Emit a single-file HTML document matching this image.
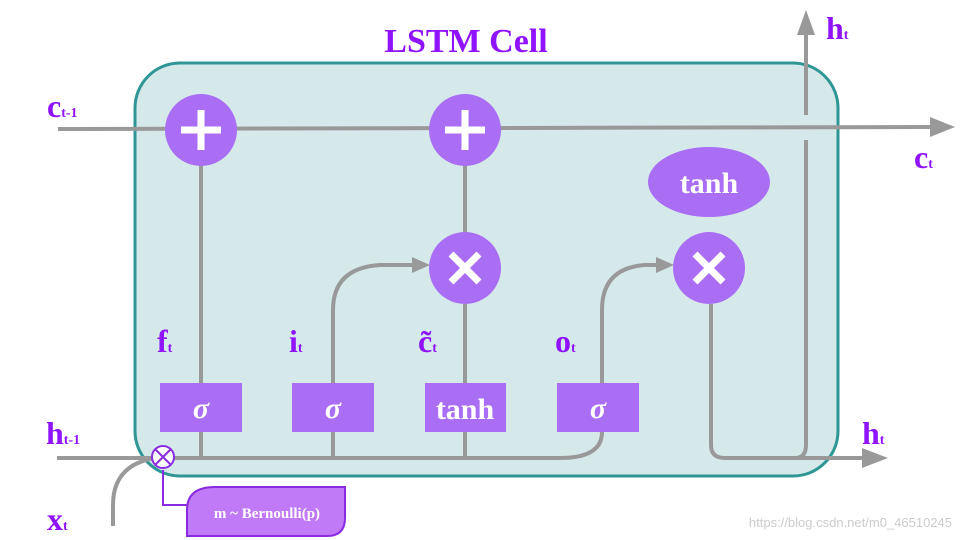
<!DOCTYPE html>
<html><head><meta charset="utf-8"><style>
html,body{margin:0;padding:0;background:#fff;width:960px;height:540px;overflow:hidden}
svg text{font-family:"Liberation Serif",serif;font-weight:bold}
</style></head><body>
<svg width="960" height="540" viewBox="0 0 960 540" xmlns="http://www.w3.org/2000/svg">
<defs>
<marker id="ah" markerWidth="10" markerHeight="10" refX="2" refY="5" orient="auto" markerUnits="userSpaceOnUse" viewBox="0 0 10 10"><path d="M0,0 L10,5 L0,10 z" fill="#999"/></marker>
</defs>
<rect x="135" y="63" width="703" height="413" rx="45" fill="#d5e9ea" stroke="#2f9696" stroke-width="3"/>
<text x="466" y="52" font-size="34" fill="#9013fe" text-anchor="middle">LSTM Cell</text>
<g stroke="#999" stroke-width="4" fill="none">
<line x1="58" y1="129" x2="930" y2="127"/>
<path d="M930,117 L955,127 L930,137 z" fill="#999" stroke="none"/>
<line x1="201" y1="166" x2="201" y2="458"/>
<line x1="465" y1="166" x2="465" y2="232"/>
<line x1="465" y1="304" x2="465" y2="458"/>
<line x1="333" y1="383" x2="333" y2="458"/>
<path d="M333,383 L333,310 Q333,268 380,265 L412,265"/>
<path d="M412,257 L430,265 L412,273 z" fill="#999" stroke="none"/>
<path d="M602,383 L602,310 Q602,268 645,265 L656,265"/>
<path d="M656,257 L674,265 L656,273 z" fill="#999" stroke="none"/>
<path d="M57,458 L560,458 Q602,458 602,432"/>
<path d="M113,526 L113,505 Q113,465 155,458"/>
<path d="M711,304 L711,445 Q711,458 725,458 L865,458"/>
<path d="M862,448 L888,458 L862,468 z" fill="#999" stroke="none"/>
<path d="M795,458 Q806,458 806,445 L806,140"/>
<line x1="806" y1="115" x2="806" y2="35"/>
<path d="M797,35 L806,10 L815,35 z" fill="#999" stroke="none"/>
</g>
<g fill="#aa6ef5">
<circle cx="201" cy="130" r="36"/><circle cx="465" cy="130" r="36"/>
<circle cx="465" cy="268" r="36"/><circle cx="709" cy="268" r="36"/>
<ellipse cx="709" cy="182" rx="61" ry="35"/>
<rect x="160" y="383" width="82" height="49"/><rect x="292" y="383" width="82" height="49"/>
<rect x="425" y="383" width="81" height="49"/><rect x="557" y="383" width="82" height="49"/>
</g>
<g stroke="#fff" stroke-width="7">
<line x1="201" y1="110" x2="201" y2="150"/><line x1="181" y1="130" x2="221" y2="130"/>
<line x1="465" y1="110" x2="465" y2="150"/><line x1="445" y1="130" x2="485" y2="130"/>
<line x1="451" y1="254" x2="479" y2="282"/><line x1="479" y1="254" x2="451" y2="282"/>
<line x1="695" y1="254" x2="723" y2="282"/><line x1="723" y1="254" x2="695" y2="282"/>
</g>
<g fill="#fff" text-anchor="middle">
<text x="709" y="193" font-size="30">tanh</text>
<text x="201" y="418" font-size="30" font-style="italic">σ</text>
<text x="333" y="418" font-size="30" font-style="italic">σ</text>
<text x="465" y="419" font-size="30">tanh</text>
<text x="598" y="418" font-size="30" font-style="italic">σ</text>
</g>
<path d="M163,470 L163,505 L190,505" stroke="#8a2be2" stroke-width="2" fill="none"/>
<path d="M187,536 L187,510 Q187,487 215,487 L345,487 L345,518 Q345,536 327,536 z" fill="#c07af8" stroke="#8a2be2" stroke-width="2"/>
<text x="267" y="518" font-size="15" fill="#fff" text-anchor="middle">m ~ Bernoulli(p)</text>
<circle cx="163" cy="457" r="11" fill="#fff" stroke="#8a2be2" stroke-width="2"/>
<g stroke="#8a2be2" stroke-width="2"><line x1="155" y1="449" x2="171" y2="465"/><line x1="171" y1="449" x2="155" y2="465"/></g>
<g fill="#9013fe">
<text x="47" y="117" font-size="32">c<tspan font-size="14">t-1</tspan></text>
<text x="914" y="168" font-size="32">c<tspan font-size="14">t</tspan></text>
<text x="826" y="39" font-size="32">h<tspan font-size="14">t</tspan></text>
<text x="862" y="444" font-size="32">h<tspan font-size="14">t</tspan></text>
<text x="46" y="444" font-size="32">h<tspan font-size="14">t-1</tspan></text>
<text x="47" y="530" font-size="32">x<tspan font-size="14">t</tspan></text>
<text x="157" y="352" font-size="32">f<tspan font-size="14">t</tspan></text>
<text x="289" y="352" font-size="32">i<tspan font-size="14">t</tspan></text>
<text x="418" y="352" font-size="32">c̃<tspan font-size="14">t</tspan></text>
<text x="555" y="352" font-size="32">o<tspan font-size="14">t</tspan></text>
</g>
<text x="952" y="527" font-size="13" fill="#ccc" text-anchor="end" style="font-family:'Liberation Sans',sans-serif;font-weight:normal">https://blog.csdn.net/m0_46510245</text>
</svg>
</body></html>
